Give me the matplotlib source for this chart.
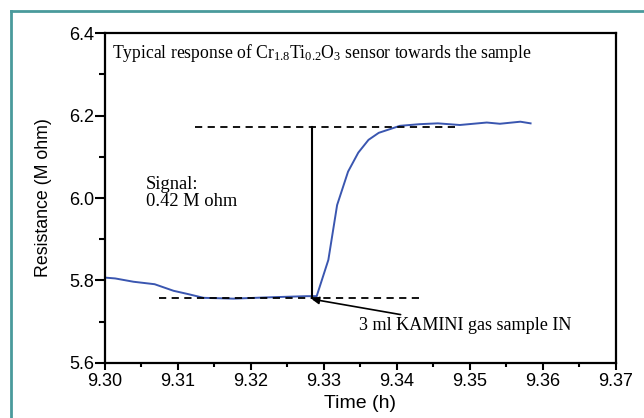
import numpy as np
import matplotlib
matplotlib.use('Agg')
import matplotlib.pyplot as plt
from matplotlib.lines import Line2D
from matplotlib.ticker import MultipleLocator, FormatStrFormatter

plt.rcParams['font.family'] = ['Liberation Sans', 'DejaVu Sans']
plt.rcParams['mathtext.fontset'] = 'custom'
plt.rcParams['mathtext.rm'] = 'Liberation Serif'
plt.rcParams['mathtext.it'] = 'Liberation Serif:italic'

# sensor response
time_h = [9.3000, 9.3014, 9.3039, 9.3068, 9.3094, 9.3114, 9.3135, 9.3176,
          9.3221, 9.3276, 9.3290, 9.3306, 9.3318, 9.3333, 9.3347, 9.3361,
          9.3375, 9.3404, 9.3431, 9.3456, 9.3486, 9.3523, 9.3541, 9.3569,
          9.3583]
resistance = [5.807, 5.805, 5.797, 5.791, 5.775, 5.767, 5.758, 5.756,
              5.759, 5.762, 5.762, 5.850, 5.983, 6.064, 6.110, 6.141,
              6.158, 6.175, 6.179, 6.181, 6.177, 6.183, 6.180, 6.185,
              6.181]

base_level = 5.757
top_level = 6.173
inject_t = 9.3283
base_span = [9.3074, 9.3432]
top_span = [9.3123, 9.3482]

serif = ['Liberation Serif', 'DejaVu Serif']

fig = plt.figure(figsize=(6.44, 4.18), dpi=100)
ax = fig.add_axes([0.163, 0.1316, 0.7935, 0.7894])

ax.plot(time_h, resistance, color='#3a56b0', lw=1.4)
ax.plot(base_span, [base_level, base_level], 'k--', lw=1.3, dashes=(4, 3))
ax.plot(top_span, [top_level, top_level], 'k--', lw=1.3, dashes=(4, 3))
ax.plot([inject_t, inject_t], [base_level, top_level], 'k-', lw=1.5)

ax.annotate('3 ml KAMINI gas sample IN', xy=(inject_t, base_level - 0.002),
            xytext=(9.3348, 5.690), va='center', ha='left',
            fontsize=13.1, family=serif,
            arrowprops=dict(arrowstyle='-|>', color='k', lw=1.2,
                            mutation_scale=11, shrinkA=0, shrinkB=0))

ax.text(0.013, 0.94,
        r'Typical response of Cr$_{1.8}$Ti$_{0.2}$O$_3$ sensor towards the sample',
        transform=ax.transAxes, fontsize=12.7, family=serif, va='center')
ax.text(9.3056, 6.012, 'Signal:\n0.42 M ohm', fontsize=13.3, family=serif,
        va='center', linespacing=0.95)

ax.set_xlim(9.30, 9.37)
ax.set_ylim(5.6, 6.4)
ax.xaxis.set_major_locator(MultipleLocator(0.01))
ax.xaxis.set_minor_locator(MultipleLocator(0.005))
ax.yaxis.set_major_locator(MultipleLocator(0.2))
ax.yaxis.set_minor_locator(MultipleLocator(0.1))
ax.xaxis.set_major_formatter(FormatStrFormatter('%.2f'))
ax.yaxis.set_major_formatter(FormatStrFormatter('%.1f'))
ax.tick_params(which='both', direction='out', width=1.5, labelsize=13)
ax.tick_params(axis='x', which='major', length=5, pad=2)
ax.tick_params(axis='x', which='minor', length=3)
ax.tick_params(axis='y', which='major', length=7, pad=1)
ax.tick_params(axis='y', which='minor', length=4)
for s in ax.spines.values():
    s.set_linewidth(1.6)

ax.set_xlabel('Time (h)', fontsize=14, labelpad=4)
ax.set_ylabel('Resistance (M ohm)', fontsize=12.8, labelpad=12)

# teal frame round the chart
fig.add_artist(Line2D([11 / 644, 11 / 644], [0, 1 - 11 / 418],
                      color='#4a9a9c', lw=2, transform=fig.transFigure))
fig.add_artist(Line2D([11 / 644, 1], [1 - 11 / 418, 1 - 11 / 418],
                      color='#4a9a9c', lw=2, transform=fig.transFigure))

fig.savefig('out.png', dpi=100)
